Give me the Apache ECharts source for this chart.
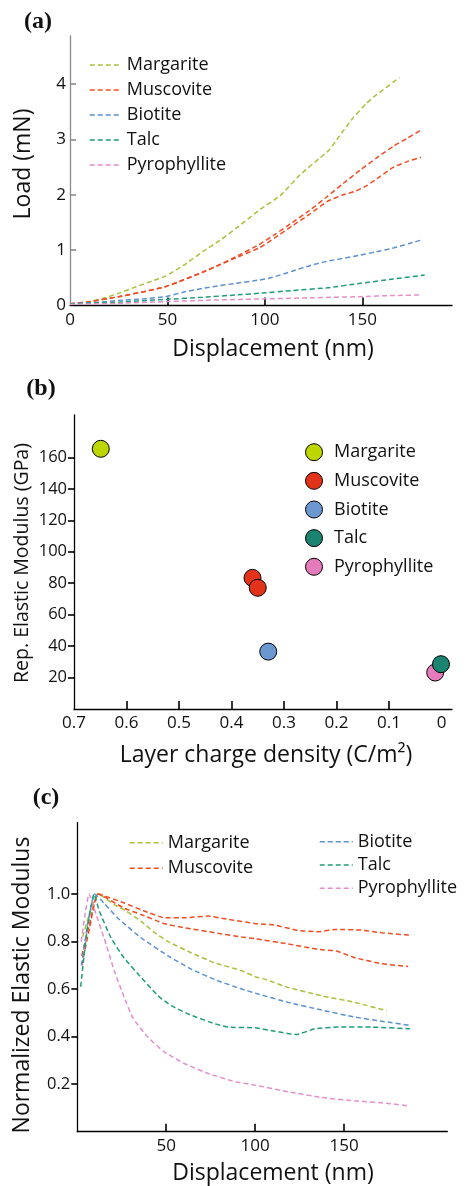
<!DOCTYPE html>
<html><head><meta charset="utf-8">
<script src="https://cdn.jsdelivr.net/npm/echarts@6/dist/echarts.min.js"></script>
<style>html,body{margin:0;padding:0;background:#fff}#c{width:468px;height:1186px}</style>
</head><body><div id="c"></div>
<script>
// ---------- DATA ----------
const minerals = ['Margarite', 'Muscovite', 'Biotite', 'Talc', 'Pyrophyllite'];

// (a) Load (mN) vs displacement (nm)
const loadMargarite = [[0,0.02],[10,0.07],[17,0.13],[25,0.22],[34,0.34],[42,0.44],[49,0.53],[58,0.72],[68,0.97],[77,1.18],[85,1.39],[97,1.72],[108,1.99],[118,2.36],[128,2.66],[133,2.81],[138,3.05],[145,3.38],[152,3.65],[157,3.80],[169,4.12]];
const loadMuscovite1 = [[0,0.03],[10,0.07],[25,0.16],[38,0.25],[49,0.34],[58,0.46],[68,0.60],[77,0.74],[85,0.88],[97,1.10],[105,1.28],[114,1.50],[123,1.72],[132,1.97],[140,2.20],[149,2.45],[157,2.66],[166,2.88],[173,3.02],[180,3.17]];
const loadMuscovite2 = [[0,0.03],[10,0.07],[25,0.16],[38,0.25],[49,0.34],[58,0.46],[68,0.60],[77,0.74],[85,0.86],[97,1.04],[105,1.22],[114,1.44],[123,1.65],[132,1.88],[140,2.00],[146,2.06],[152,2.16],[159,2.33],[166,2.50],[173,2.60],[180,2.68]];
const loadBiotite = [[0,0.03],[12,0.05],[25,0.09],[38,0.12],[49,0.16],[58,0.24],[68,0.31],[77,0.36],[85,0.40],[97,0.46],[103,0.50],[114,0.62],[123,0.72],[132,0.80],[149,0.91],[157,0.97],[166,1.04],[174,1.12],[181,1.19]];
const loadTalc = [[0,0.03],[25,0.06],[49,0.11],[68,0.15],[85,0.19],[97,0.22],[114,0.27],[132,0.32],[149,0.40],[166,0.48],[182,0.55]];
const loadPyrophyllite = [[0,0.02],[25,0.04],[49,0.07],[75,0.10],[100,0.12],[125,0.14],[149,0.16],[165,0.18],[180,0.19]];
const loadXLabels = [0, 50, 100, 150];
const loadYLabels = [0, 1, 2, 3, 4];

// (b) Rep. elastic modulus (GPa) vs layer charge density (C/m2)
const modMargarite = [[0.649,165.5]];
const modMuscovite = [[0.360,83.4],[0.350,77.1]];
const modBiotite = [[0.330,36.5]];
const modTalc = [[0.001,28.5]];
const modPyrophyllite = [[0.012,23.2]];
const modXLabels = [0.7, 0.6, 0.5, 0.4, 0.3, 0.2, 0.1, 0];
const modYLabels = [20, 40, 60, 80, 100, 120, 140, 160];

// (c) Normalized elastic modulus vs displacement (nm)
const normMargarite = [[3,0.82],[7,0.92],[11.7,1.0],[20.8,0.955],[27,0.93],[35.8,0.886],[43,0.84],[51,0.80],[64,0.753],[77.4,0.71],[92.5,0.677],[100,0.652],[106,0.64],[118.5,0.607],[137.3,0.572],[156,0.544],[174,0.509]];
const normMuscovite1 = [[2.5,0.74],[7,0.88],[11.7,1.0],[26.4,0.962],[35.8,0.934],[49,0.90],[60.4,0.90],[73.6,0.907],[84.9,0.893],[99.7,0.876],[111,0.869],[124,0.847],[135.4,0.841],[144.8,0.851],[159.8,0.848],[171,0.837],[187,0.827]];
const normMuscovite2 = [[2.5,0.70],[7,0.86],[11.7,1.0],[26.4,0.94],[35.8,0.914],[49,0.875],[60.4,0.858],[77.4,0.837],[92.5,0.819],[99.7,0.812],[118.5,0.79],[135.4,0.767],[145.7,0.76],[156,0.732],[171,0.707],[186,0.695]];
const normBiotite = [[2.3,0.70],[6,0.88],[9.8,1.0],[15,0.962],[22.6,0.90],[35.8,0.816],[51,0.74],[64,0.684],[79,0.635],[92.5,0.60],[100,0.583],[118.5,0.544],[137.3,0.512],[156,0.482],[171,0.465],[187,0.447]];
const normTalc = [[1.9,0.61],[5.5,0.85],[9.4,1.0],[12.3,0.93],[18.9,0.816],[26.4,0.73],[35.8,0.65],[45.3,0.572],[52.8,0.53],[64,0.49],[77.4,0.454],[84.9,0.44],[100,0.437],[111,0.423],[123.2,0.409],[133.5,0.433],[146.7,0.44],[165.4,0.44],[187,0.433]];
const normPyrophyllite = [[2.2,0.80],[4.5,0.92],[6.6,1.0],[9.4,0.94],[15,0.816],[20.8,0.677],[26.4,0.565],[31.1,0.48],[39.6,0.398],[49,0.335],[60.4,0.286],[73.6,0.245],[88.7,0.21],[100,0.196],[118.5,0.168],[137.3,0.144],[156,0.13],[174.8,0.119],[187,0.108]];
const normXLabels = [50, 100, 150];
const normYLabels = [0.2, 0.4, 0.6, 0.8, 1.0];

// ---------- STYLE ----------
const lineColors = {Margarite:'#A8C23C', Muscovite:'#F04C22', Biotite:'#5A91D1', Talc:'#1F9C7A', Pyrophyllite:'#E38FCB'};
const dotColors = {Margarite:'#BED600', Muscovite:'#E2331A', Biotite:'#6B98D1', Talc:'#1B8470', Pyrophyllite:'#E47BBA'};
const FONT = '"Open Sans", "Noto Sans", sans-serif';
const DASH = [5, 3];
const fmtName = n => n.split('|')[0];

function lineSeries(name, tag, data, grid) {
  return {
    name: name + '|' + tag, type: 'line', xAxisIndex: grid, yAxisIndex: grid,
    data: data, symbol: 'none', showSymbol: false, smooth: 0.15,
    itemStyle: {color: lineColors[name]},
    lineStyle: {color: lineColors[name], width: 1.5, type: DASH},
    silent: true, z: 2
  };
}
function dotSeries(name, data, z) {
  return {
    name: name + '|b', type: 'scatter', xAxisIndex: 1, yAxisIndex: 1, data: data,
    symbol: 'circle', symbolSize: 17,
    itemStyle: {color: dotColors[name], borderColor: '#000', borderWidth: 1, opacity: 1},
    silent: true, z: z
  };
}
function xAx(grid, min, max, labels, ticks, extra) {
  return Object.assign({
    gridIndex: grid, type: 'value', min: min, max: max,
    axisLine: {show: true, onZero: false, lineStyle: {color: '#000', width: 1.3}},
    axisTick: {show: true, inside: true, length: 8, customValues: ticks, lineStyle: {color: '#000', width: 1.6}},
    axisLabel: {customValues: labels, fontSize: 17, fontFamily: FONT, color: '#111', margin: 6,
      formatter: v => String(Math.round(v * 10) / 10)},
    splitLine: {show: false}
  }, extra || {});
}
function yAx(grid, min, max, labels, ticks, tickInside, color, fmt, fs, margin) {
  return {
    gridIndex: grid, type: 'value', min: min, max: max,
    axisLine: {show: true, onZero: false, lineStyle: {color: color, width: 1.3}},
    axisTick: {show: true, inside: tickInside, length: 6, customValues: ticks, lineStyle: {color: color, width: 1.6}},
    axisLabel: {customValues: labels, fontSize: fs, fontFamily: FONT, color: '#111', margin: margin, formatter: fmt},
    splitLine: {show: false}
  };
}
function txt(x, y, text, font, rot) {
  return {type: 'text', x: x, y: y, rotation: rot || 0, silent: true,
    style: {text: text, font: font, fill: '#111', align: 'center', verticalAlign: 'middle',
      textAlign: 'center', textVerticalAlign: 'middle'}};
}
const lineLegendBase = {orient: 'vertical', padding: 0, selectedMode: false, formatter: fmtName,
  lineStyle: {type: DASH, width: 1.5}, itemStyle: {opacity: 0, borderWidth: 0}};

const chart = echarts.init(document.getElementById('c'), null, {renderer: 'canvas'});
chart.setOption({
  animation: false,
  backgroundColor: '#fff',
  grid: [
    {left: 70, top: 36, width: 382, height: 269.5, containLabel: false, outerBoundsMode: 'none'},
    {left: 74, top: 415, width: 378, height: 294, containLabel: false, outerBoundsMode: 'none'},
    {left: 77.3, top: 822.7, width: 370, height: 309, containLabel: false, outerBoundsMode: 'none'}
  ],
  xAxis: [
    xAx(0, 0, 196, loadXLabels, [50, 100, 150]),
    xAx(1, -0.02, 0.7, modXLabels, [0.6, 0.5, 0.4, 0.3, 0.2, 0.1], {inverse: true}),
    xAx(2, 0, 208, normXLabels, normXLabels)
  ],
  yAxis: [
    yAx(0, 0, 4.87, loadYLabels, [1, 2, 3, 4], true, '#8a8a8a', v => String(v), 17, 4),
    yAx(1, 0, 187, modYLabels, modYLabels, false, '#000', v => String(v), 16.5, 7),
    yAx(2, 0, 1.3, normYLabels, normYLabels, false, '#000', v => v.toFixed(1), 16.5, 7)
  ],
  legend: [
    Object.assign({}, lineLegendBase, {left: 89, top: 56, itemWidth: 32, itemHeight: 14, itemGap: 7,
      data: minerals.map(m => m + '|a'),
      textStyle: {fontSize: 18, fontFamily: FONT, color: '#111', lineHeight: 14}}),
    {orient: 'vertical', left: 305, top: 443.2, padding: 0, itemWidth: 30, itemHeight: 17, itemGap: 10.65,
      selectedMode: false, formatter: fmtName, data: minerals.map(m => m + '|b'),
      itemStyle: {borderColor: '#000', borderWidth: 1},
      textStyle: {fontSize: 18, fontFamily: FONT, color: '#111', lineHeight: 17}},
    Object.assign({}, lineLegendBase, {left: 129, top: 833.7, itemWidth: 33, itemHeight: 18, itemGap: 7.6,
      data: ['Margarite|c', 'Muscovite|c'],
      textStyle: {fontSize: 18, fontFamily: FONT, color: '#111', lineHeight: 18}}),
    Object.assign({}, lineLegendBase, {left: 319, top: 832.7, itemWidth: 33, itemHeight: 18, itemGap: 5.3,
      data: ['Biotite|c', 'Talc|c', 'Pyrophyllite|c'],
      textStyle: {fontSize: 18, fontFamily: FONT, color: '#111', lineHeight: 18}})
  ],
  series: [
    lineSeries('Margarite', 'a', loadMargarite, 0),
    lineSeries('Muscovite', 'a', loadMuscovite1, 0),
    lineSeries('Muscovite', 'a', loadMuscovite2, 0),
    lineSeries('Biotite', 'a', loadBiotite, 0),
    lineSeries('Talc', 'a', loadTalc, 0),
    lineSeries('Pyrophyllite', 'a', loadPyrophyllite, 0),
    dotSeries('Margarite', modMargarite, 2),
    dotSeries('Muscovite', modMuscovite, 2),
    dotSeries('Biotite', modBiotite, 2),
    dotSeries('Talc', modTalc, 4),
    dotSeries('Pyrophyllite', modPyrophyllite, 3),
    lineSeries('Margarite', 'c', normMargarite, 2),
    lineSeries('Muscovite', 'c', normMuscovite1, 2),
    lineSeries('Muscovite', 'c', normMuscovite2, 2),
    lineSeries('Biotite', 'c', normBiotite, 2),
    lineSeries('Talc', 'c', normTalc, 2),
    lineSeries('Pyrophyllite', 'c', normPyrophyllite, 2)
  ],
  graphic: [
    txt(38, 22, '(a)', 'bold 24px "Liberation Serif", "Times New Roman", serif'),
    txt(41, 389, '(b)', 'bold 24px "Liberation Serif", "Times New Roman", serif'),
    txt(46, 798, '(c)', 'bold 24px "Liberation Serif", "Times New Roman", serif'),
    txt(23, 164, 'Load (mN)', '23px ' + FONT, Math.PI / 2),
    txt(273, 349, 'Displacement (nm)', '23px ' + FONT),
    txt(22, 563, 'Rep. Elastic Modulus (GPa)', '19.5px ' + FONT, Math.PI / 2),
    txt(266, 755, 'Layer charge density (C/m²)', '23px ' + FONT),
    txt(22.5, 985, 'Normalized Elastic Modulus', '23px ' + FONT, Math.PI / 2),
    txt(273, 1173, 'Displacement (nm)', '23px ' + FONT)
  ]
});
</script></body></html>
